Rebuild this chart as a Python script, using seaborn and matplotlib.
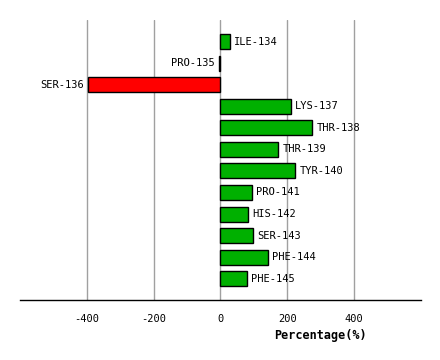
import seaborn as sns
import pandas as pd
import matplotlib.pyplot as plt

residues = ["ILE-134", "PRO-135", "SER-136", "LYS-137", "THR-138", "THR-139",
            "TYR-140", "PRO-141", "HIS-142", "SER-143", "PHE-144", "PHE-145"]
percentage = [28, -5, -396, 212, 275, 173, 224, 95, 83, 98, 143, 80]
ticks = [-400, -200, 0, 200, 400]

df = pd.DataFrame({"residue": residues, "pct": percentage})
df["sign"] = ["pos" if v >= 0 else "neg" for v in df["pct"]]

sns.set_style("white")
plt.rcParams["font.family"] = ["DejaVu Sans Mono"]
plt.rcParams["text.color"] = "black"
plt.rcParams["xtick.color"] = "black"
plt.rcParams["axes.labelcolor"] = "black"

fig = plt.figure(figsize=(4.4, 3.6), dpi=100)
ax = fig.add_axes([20 / 440, (360 - 300.3) / 360, 400.7 / 440, 280.3 / 360])

sns.barplot(
    data=df, x="pct", y="residue", hue="sign", orient="h",
    palette={"pos": "#00b000", "neg": "#ff0000"}, saturation=1,
    dodge=False, width=0.7, edgecolor="black", linewidth=1,
    legend=False, ax=ax, zorder=3
)

# labels next to bar ends
for i, (name, v) in enumerate(zip(residues, percentage)):
    if v >= 0:
        ax.annotate(name, (v, i), xytext=(3, 0), textcoords="offset points",
                    ha="left", va="center", fontsize=7.5)
    else:
        ax.annotate(name, (v, i), xytext=(-3, 0), textcoords="offset points",
                    ha="right", va="center", fontsize=7.5)

ax.set_xlim(-600, 600)
ax.set_ylim(len(residues), -1)
ax.set_xticks(ticks)
ax.set_xticklabels([str(t) for t in ticks], fontsize=7.5)
ax.tick_params(axis="x", length=0, pad=10)
ax.set_yticks([])
ax.set_ylabel("")
ax.grid(axis="x", color="#a0a0a0", linewidth=1, zorder=0)
ax.set_axisbelow(True)
for s in ["left", "top", "right"]:
    ax.spines[s].set_visible(False)
ax.spines["bottom"].set_color("black")
ax.spines["bottom"].set_linewidth(1)

ax.set_xlabel("Percentage(%)", fontsize=8.5, fontweight="bold")
ax.xaxis.set_label_coords(0.749, -0.103)

fig.savefig("out.png", dpi=100)
